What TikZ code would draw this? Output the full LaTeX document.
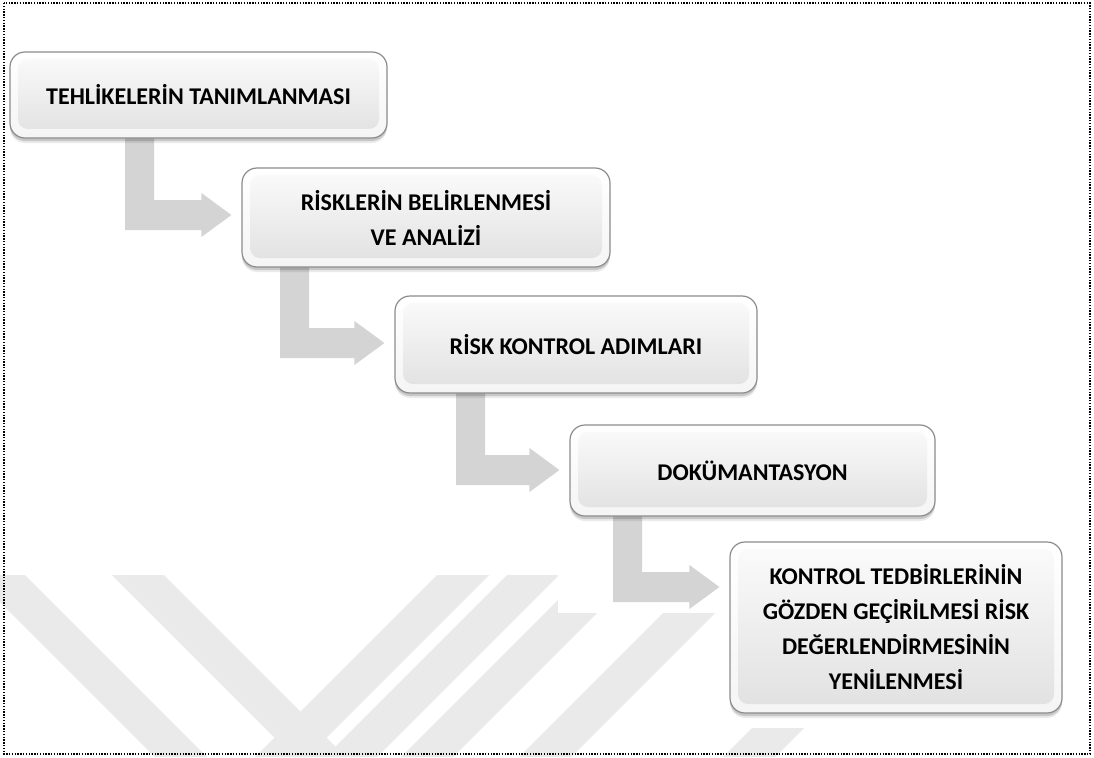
\documentclass[tikz,border=0pt]{standalone}
\usepackage{fontspec}
\setmainfont{Carlito}
\usetikzlibrary{calc,shadows}
\pgfdeclarelayer{background}
\pgfsetlayers{background,main}

\definecolor{elbowgray}{RGB}{212,212,212}
\definecolor{markgray}{RGB}{234,234,234}
\definecolor{edgegray}{RGB}{140,140,140}

% bent block arrow from the bottom of #1 to the left side of #2;
% #3 = left x of the vertical bar, #4 = y of the arrow tip
\newcommand{\elbow}[4]{%
  \begin{pgfonlayer}{background}
  \fill[elbowgray] let \p1=(#1.south), \p2=(#2.west) in
    (#3pt,\y1+6pt) -- (#3pt+29pt,\y1+6pt) -- (#3pt+29pt,-#4pt+15pt)
    -- (\x2-40pt,-#4pt+15pt) -- (\x2-40pt,-#4pt+22pt) -- (\x2-10pt,-#4pt)
    -- (\x2-40pt,-#4pt-22pt) -- (\x2-40pt,-#4pt-15pt) -- (#3pt,-#4pt-15pt) -- cycle;
  \end{pgfonlayer}}

% faint diagonal bands of the background mark
\newcommand{\bandDown}[1]{\fill[markgray] (#1,575) -- (#1+52,575) -- (#1+234,757) -- (#1+182,757) -- cycle;}
\newcommand{\bandUp}[1]{\fill[markgray] (#1,575) -- (#1+52,575) -- (#1-130,757) -- (#1-182,757) -- cycle;}

\tikzset{
  stepbox/.style={rectangle, rounded corners=15pt, draw=edgegray, line width=1.2pt,
    top color=white, bottom color=gray!8,
    drop shadow={shadow xshift=0pt, shadow yshift=-5pt, fill=black, opacity=.08},
    drop shadow={shadow xshift=0pt, shadow yshift=-3pt, fill=black, opacity=.15},
    inner sep=0pt, align=center,
    font=\fontsize{24}{35}\selectfont\bfseries,
    path picture={
      \shade[top color=gray!3, bottom color=gray!24, rounded corners=10pt]
        ($(path picture bounding box.south west)+(8pt,9pt)$) rectangle
        ($(path picture bounding box.north east)+(-8pt,-7pt)$);
    }},
  framestyle/.style={draw=black, line width=1.4pt, dash pattern=on 1.4pt off 1.4pt}
}

\begin{document}
\begin{tikzpicture}[x=1pt,y=-1pt]
\useasboundingbox (0,0) rectangle (1094,757);

% white page and background mark
\begin{pgfonlayer}{background}
\fill[white] (0,0) rectangle (1094,757);
\begin{scope}
  \clip (0,575) rectangle (1094,757);
  \bandDown{-27}
  \bandDown{112}
  \bandUp{437}
  \bandUp{507}
  \bandUp{583}
  \bandUp{701}
  \bandUp{905}
\end{scope}
\fill[white] (558,560) rectangle (1094,613);
\fill[white] (717,613) rectangle (1094,728);
\end{pgfonlayer}

% process steps
\node[stepbox, minimum width=377pt, minimum height=86pt] (t1) at (198.5,95)
  {TEHLİKELERİN TANIMLANMASI};
\node[stepbox, minimum width=368pt, minimum height=99pt] (t2) at (426,217.5)
  {RİSKLERİN BELİRLENMESİ\\VE ANALİZİ};
\node[stepbox, minimum width=362pt, minimum height=97pt] (t3) at (576,344.5)
  {RİSK KONTROL ADIMLARI};
\node[stepbox, minimum width=365pt, minimum height=91pt] (t4) at (752.5,470.5)
  {DOKÜMANTASYON};
\node[stepbox, minimum width=332pt, minimum height=171pt] (t5) at (896,627.5)
  {KONTROL TEDBİRLERİNİN\\GÖZDEN GEÇİRİLMESİ RİSK\\DEĞERLENDİRMESİNİN\\YENİLENMESİ};

% connectors
\elbow{t1}{t2}{125}{215}
\elbow{t2}{t3}{280}{343}
\elbow{t3}{t4}{456}{470}
\elbow{t4}{t5}{613}{587}

% dotted frame
\draw[framestyle] (4,3) rectangle (1090,754);
\end{tikzpicture}
\end{document}
